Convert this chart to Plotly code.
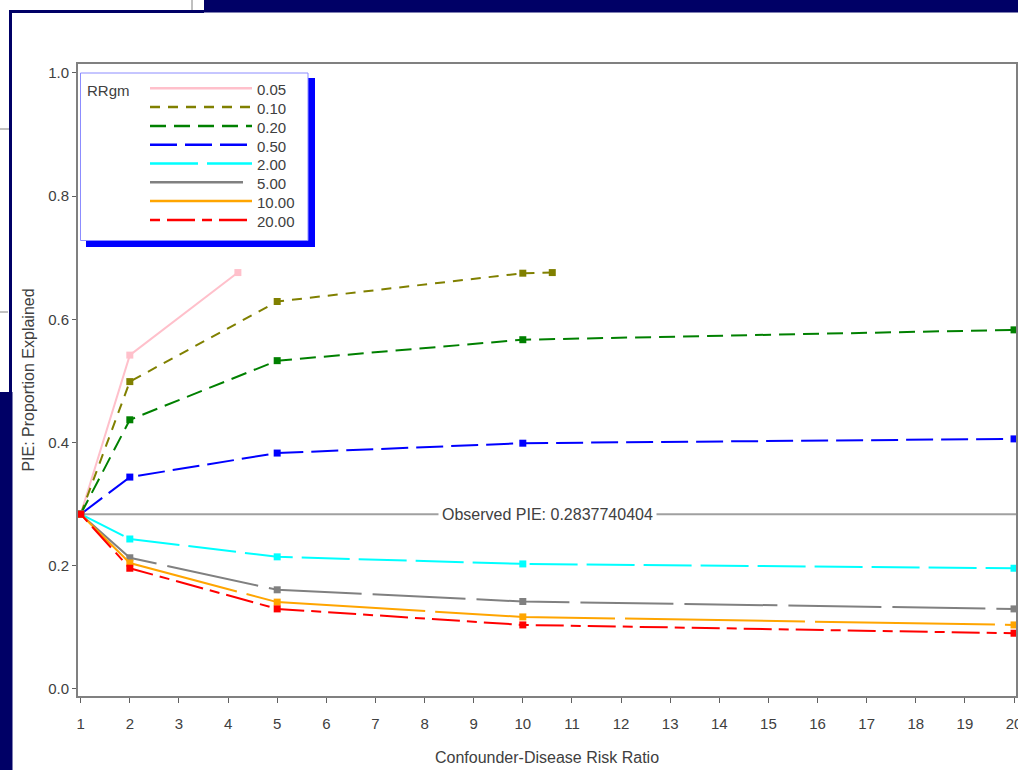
import plotly.graph_objects as go

# ---------------- data ----------------
observed_pie = 0.2837740404
series_names = ["0.05", "0.10", "0.20", "0.50", "2.00", "5.00", "10.00", "20.00"]
x_005 = [1, 2, 4.2]
y_005 = [observed_pie, 0.542, 0.676]
x_010 = [1, 2, 5, 10, 10.6]
y_010 = [observed_pie, 0.499, 0.629, 0.675, 0.676]
x_std = [1, 2, 5, 10, 20]
y_020 = [observed_pie, 0.437, 0.533, 0.567, 0.583]
y_050 = [observed_pie, 0.344, 0.383, 0.399, 0.406]
y_200 = [observed_pie, 0.2435, 0.2145, 0.203, 0.196]
y_500 = [observed_pie, 0.213, 0.161, 0.142, 0.130]
y_1000 = [observed_pie, 0.2045, 0.141, 0.117, 0.104]
y_2000 = [observed_pie, 0.196, 0.130, 0.104, 0.0905]
x_ticks = list(range(1, 21))
y_ticks = [0.0, 0.2, 0.4, 0.6, 0.8, 1.0]
legend_title = "RRgm"

xs = [x_005, x_010, x_std, x_std, x_std, x_std, x_std, x_std]
ys = [y_005, y_010, y_020, y_050, y_200, y_500, y_1000, y_2000]
colors = ["#FFC0CB", "#808000", "#008000", "#0000FF", "#00FFFF", "#808080", "#FFA500", "#FF0000"]
dashes = ["solid", "10px,8px", "16px,8px", "27px,8px", "48px,9px", "93px,11px", "180px,10px", "10px,7px,28px,7px"]

FONT = "Liberation Sans, Arial, sans-serif"
TXT = "#404040"

# plot-area pixel geometry (for paper-coordinate decorations)
L, R, T, B = 78, 1016, 64, 696
W, H = R - L, B - T


def px(x):
    return (x - L) / W


def py(y):
    return (B - y) / H


fig = go.Figure()
for name, x, y, c, d in zip(series_names, xs, ys, colors, dashes):
    fig.add_trace(go.Scatter(x=x, y=y, mode="lines+markers", name=name,
                             line=dict(color=c, width=2, dash=d),
                             marker=dict(symbol="square", size=7, color=c, line=dict(width=0))))

shapes = []
annotations = []
navy = "#000066"
# slide background fragments
shapes.append(dict(type="rect", xref="paper", yref="paper", x0=px(204), x1=px(1018), y0=py(0), y1=py(12.5),
                   fillcolor=navy, line=dict(width=0), layer="below"))
shapes.append(dict(type="rect", xref="paper", yref="paper", x0=px(9), x1=px(204), y0=py(10), y1=py(13),
                   fillcolor=navy, line=dict(width=0), layer="below"))
shapes.append(dict(type="rect", xref="paper", yref="paper", x0=px(9), x1=px(12), y0=py(10), y1=py(392),
                   fillcolor=navy, line=dict(width=0), layer="below"))
shapes.append(dict(type="rect", xref="paper", yref="paper", x0=px(0), x1=px(12.5), y0=py(392), y1=py(770),
                   fillcolor=navy, line=dict(width=0), layer="below"))
shapes.append(dict(type="line", xref="paper", yref="paper", x0=px(192), x1=px(192), y0=py(0), y1=py(10),
                   line=dict(color="#808080", width=1), layer="below"))
shapes.append(dict(type="line", xref="paper", yref="paper", x0=px(0), x1=px(9), y0=py(129), y1=py(129),
                   line=dict(color="#808080", width=1), layer="below"))
shapes.append(dict(type="line", xref="paper", yref="paper", x0=px(0), x1=px(8), y0=py(312), y1=py(312),
                   line=dict(color="#808080", width=1), layer="below"))
# observed reference line
shapes.append(dict(type="line", xref="x domain", yref="y", x0=0, x1=1, y0=observed_pie, y1=observed_pie,
                   line=dict(color="#A0A0A0", width=2), layer="below"))

# legend box (with shadow)
shapes.append(dict(type="rect", xref="paper", yref="paper", x0=px(86), x1=px(315), y0=py(78), y1=py(247),
                   fillcolor="#0000FF", line=dict(width=0), layer="above"))
shapes.append(dict(type="rect", xref="paper", yref="paper", x0=px(80.5), x1=px(308), y0=py(73), y1=py(240.5),
                   fillcolor="white", line=dict(color="#8C8CFF", width=1), layer="above"))
annotations.append(dict(xref="paper", yref="paper", x=px(85), y=py(90), xanchor="left", yanchor="middle",
                        text=legend_title, showarrow=False, font=dict(size=15, color=TXT)))
row0, row_gap = 88.3, 18.8
for i, (name, c, d) in enumerate(zip(series_names, colors, dashes)):
    yy = row0 + i * row_gap
    shapes.append(dict(type="line", xref="paper", yref="paper", x0=px(150), x1=px(252), y0=py(yy), y1=py(yy),
                       line=dict(color=c, width=2.5, dash=d), layer="above"))
    annotations.append(dict(xref="paper", yref="paper", x=px(255), y=py(yy + 1.5), xanchor="left",
                            yanchor="middle", text=name, showarrow=False, font=dict(size=15, color=TXT)))

annotations.append(dict(xref="x domain", yref="y", x=0.5, y=observed_pie,
                        text="Observed PIE: " + str(observed_pie), showarrow=False,
                        font=dict(size=16, color=TXT), bgcolor="white", borderpad=3))

fig.update_layout(
    width=1018, height=770,
    margin=dict(l=L, r=1018 - R, t=T, b=770 - B, autoexpand=False),
    paper_bgcolor="white", plot_bgcolor="rgba(0,0,0,0)",
    font=dict(family=FONT, size=15, color=TXT),
    shapes=shapes,
    annotations=annotations,
    showlegend=False,
)
fig.update_xaxes(range=[0.945, 20.04], tickvals=x_ticks, ticks="outside", ticklen=5, automargin=False,
                 tickcolor="#606060", showline=True, linecolor="#808080", linewidth=2, mirror=True,
                 showgrid=False, zeroline=False, ticklabelstandoff=8, ticklabeloverflow="allow",
                 title=dict(text="Confounder-Disease Risk Ratio", font=dict(size=16, color=TXT), standoff=21),
                 tickfont=dict(size=15, color=TXT))
fig.update_yaxes(range=[-0.0114, 1.0146], tickvals=y_ticks, tickformat=".1f", ticks="outside", ticklen=4,
                 automargin=False,
                 tickcolor="#606060", showline=True, linecolor="#808080", linewidth=2, mirror=True,
                 showgrid=False, zeroline=False,
                 title=dict(text="PIE: Proportion Explained", font=dict(size=16, color=TXT), standoff=10),
                 tickfont=dict(size=15, color=TXT))

fig.write_html("out.html", config={"displayModeBar": False},
               post_script="document.body.style.margin='0';")
